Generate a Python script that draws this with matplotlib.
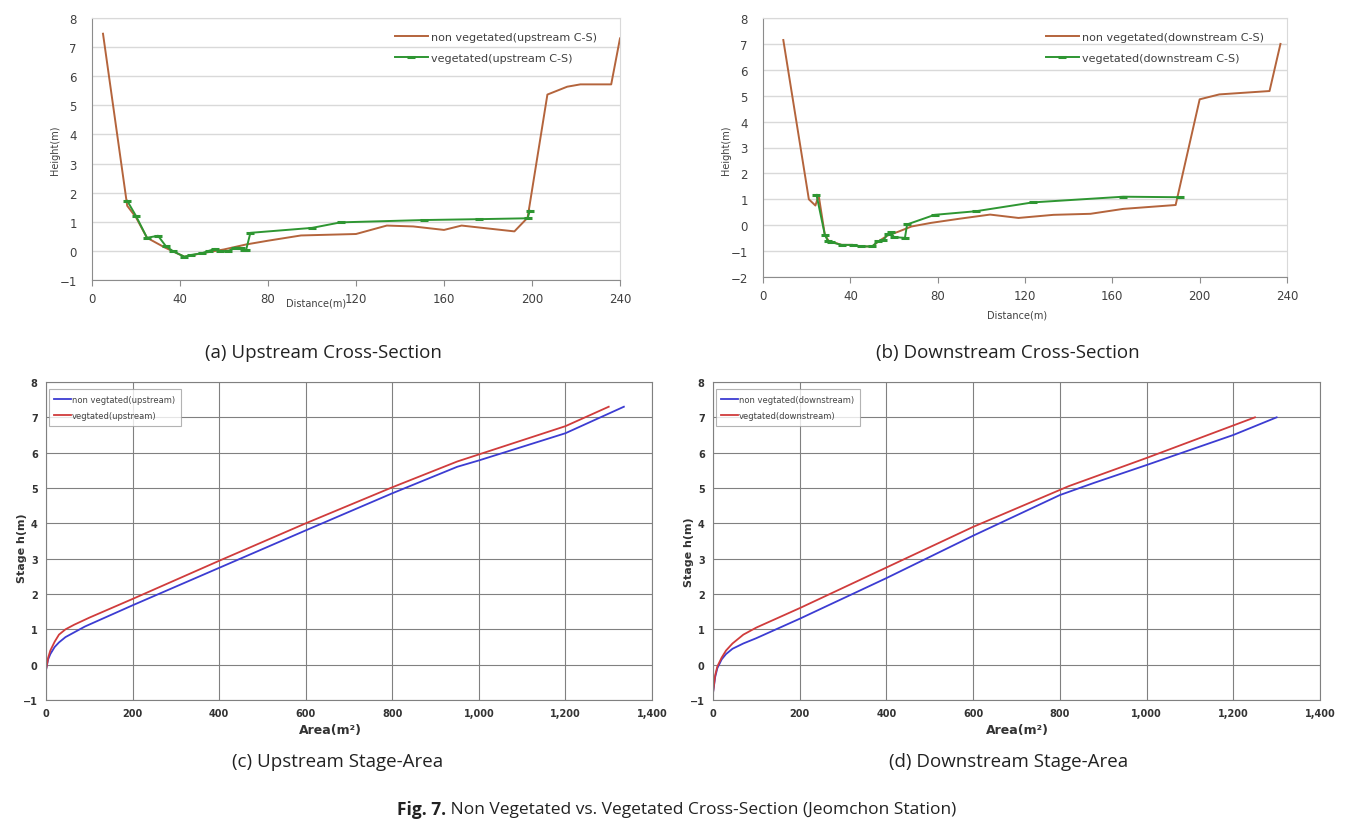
import matplotlib
matplotlib.use("Agg")
import matplotlib.pyplot as plt
from matplotlib.ticker import FuncFormatter

# ---------------- data ----------------
# (a) upstream cross-section
up_nonveg_x = [5, 16, 20, 25, 33, 42, 50, 60, 70, 80, 95, 120, 134, 146, 160, 168, 192, 198, 207, 216, 222, 236, 240]
up_nonveg_y = [7.46, 1.55, 1.15, 0.45, 0.12, -0.2, -0.08, 0.05, 0.22, 0.35, 0.53, 0.58, 0.87, 0.84, 0.72, 0.87, 0.67, 1.14, 5.37, 5.64, 5.72, 5.72, 7.3]
up_veg_x = [16, 20, 25, 30, 33.5, 37, 42, 45, 50, 53, 56, 58, 62, 65, 67.5, 69, 70, 72, 100, 113, 151, 176, 198, 199]
up_veg_y = [1.72, 1.2, 0.45, 0.52, 0.17, -0.02, -0.2, -0.14, -0.08, 0.0, 0.07, -0.02, 0.0, 0.11, 0.11, 0.02, 0.02, 0.62, 0.79, 0.98, 1.06, 1.09, 1.12, 1.38]

# (b) downstream cross-section
dn_nonveg_x = [9.3, 21, 24, 25.5, 28.3, 30, 36, 41, 45, 50, 53, 57, 62, 68, 77, 90, 104, 117, 133, 150, 165, 189, 200, 209, 232, 237]
dn_nonveg_y = [7.15, 1.0, 0.76, 1.15, -0.36, -0.6, -0.76, -0.76, -0.82, -0.82, -0.62, -0.4, -0.25, -0.05, 0.09, 0.25, 0.41, 0.28, 0.4, 0.44, 0.63, 0.78, 4.86, 5.05, 5.18, 7.0]
dn_veg_x = [24.5, 28.3, 29.8, 31, 36, 41, 45, 50, 52.7, 55, 57.3, 58.5, 60, 65, 66, 78.6, 97.6, 123.5, 165, 191]
dn_veg_y = [1.17, -0.36, -0.62, -0.65, -0.76, -0.76, -0.82, -0.82, -0.62, -0.59, -0.33, -0.27, -0.46, -0.49, 0.03, 0.4, 0.54, 0.88, 1.1, 1.08]

# (c) upstream stage-area
upA_nonveg_area = [0, 5, 10, 20, 30, 45, 60, 90, 200, 400, 600, 800, 950, 1000, 1200, 1335]
upA_nonveg_stage = [-0.15, 0.15, 0.3, 0.5, 0.63, 0.78, 0.88, 1.08, 1.68, 2.74, 3.8, 4.85, 5.6, 5.78, 6.55, 7.3]
upA_veg_area = [0, 5, 10, 20, 30, 45, 65, 100, 200, 400, 600, 800, 950, 1000, 1200, 1300]
upA_veg_stage = [-0.15, 0.2, 0.4, 0.65, 0.85, 1.0, 1.13, 1.33, 1.86, 2.94, 4.0, 5.02, 5.75, 5.95, 6.75, 7.3]

# (d) downstream stage-area
dnA_nonveg_area = [0, 5, 10, 20, 30, 45, 70, 100, 200, 400, 600, 800, 880, 1000, 1200, 1300]
dnA_nonveg_stage = [-0.8, -0.35, -0.1, 0.15, 0.3, 0.45, 0.6, 0.75, 1.3, 2.45, 3.65, 4.8, 5.15, 5.65, 6.5, 7.0]
dnA_veg_area = [0, 5, 10, 20, 30, 45, 70, 100, 200, 400, 600, 820, 1000, 1250]
dnA_veg_stage = [-0.8, -0.3, -0.05, 0.2, 0.4, 0.6, 0.85, 1.05, 1.6, 2.75, 3.9, 5.05, 5.85, 7.0]

# labels
cs_ticks_x = [0, 40, 80, 120, 160, 200, 240]
sa_ticks_x = [0, 200, 400, 600, 800, 1000, 1200, 1400]

BROWN = "#B4643C"
GREEN = "#2E9632"
BLUE = "#3C3CD2"
RED = "#D03C3C"

W, H = 1357, 828
fig = plt.figure(figsize=(W / 100, H / 100), dpi=100)
fig.patch.set_facecolor("white")


def rect(l, t, r, b):
    return [l / W, 1 - b / H, (r - l) / W, (b - t) / H]


def cross_section(ax, xn, yn, xv, yv, ylim, name):
    ax.plot(xn, yn, color=BROWN, lw=1.4, label=f"non vegetated({name} C-S)")
    ax.plot(xv, yv, color=GREEN, lw=1.4, marker="_", ms=6, mew=2.2,
            label=f"vegetated({name} C-S)")
    ax.set_xlim(0, 240)
    ax.set_ylim(*ylim)
    ax.set_xticks(cs_ticks_x)
    ax.set_yticks(range(ylim[0], ylim[1] + 1))
    ax.yaxis.grid(True, color="#D9D9D9", lw=1)
    ax.set_axisbelow(True)
    for s in ["top", "right"]:
        ax.spines[s].set_color("#D9D9D9")
    for s in ["left", "bottom"]:
        ax.spines[s].set_color("#8C8C8C")
    ax.tick_params(axis="x", colors="#8C8C8C", labelcolor="#404040", labelsize=8.5, length=4,
                   direction="out", pad=5)
    ax.tick_params(axis="y", length=0, labelcolor="#404040", labelsize=8.5, pad=11)
    leg = ax.legend(loc="upper right", frameon=False, fontsize=8, handlelength=3.0,
                    handletextpad=0.25, bbox_to_anchor=(0.975, 0.985), labelspacing=1.0)
    for t in leg.get_texts():
        t.set_color("#404040")


def stage_area(ax, an, sn, av, sv, name):
    ax.plot(an, sn, color=BLUE, lw=1.3, label=f"non vegtated({name})")
    ax.plot(av, sv, color=RED, lw=1.3, label=f"vegtated({name})")
    ax.set_xlim(0, 1400)
    ax.set_ylim(-1, 8)
    ax.set_xticks(sa_ticks_x)
    ax.set_yticks(range(-1, 9))
    ax.xaxis.set_major_formatter(FuncFormatter(lambda v, p: f"{int(v):,}"))
    ax.grid(True, color="#808080", lw=0.8)
    ax.set_axisbelow(True)
    for s in ax.spines.values():
        s.set_color("#808080")
        s.set_linewidth(0.8)
    ax.tick_params(length=0, labelsize=7, labelcolor="#333333", pad=6)
    for lab in ax.get_xticklabels() + ax.get_yticklabels():
        lab.set_fontweight("bold")
    leg = ax.legend(loc="upper left", fontsize=6, frameon=True, fancybox=False,
                    edgecolor="#A0A0A0", handlelength=2.0, handletextpad=0.1,
                    borderpad=0.7, labelspacing=0.8, bbox_to_anchor=(0.0, 0.985),
                    borderaxespad=0.3)
    leg.get_frame().set_linewidth(0.8)
    for t in leg.get_texts():
        t.set_color("#444444")


ax_a = fig.add_axes(rect(92, 19, 620, 281))
cross_section(ax_a, up_nonveg_x, up_nonveg_y, up_veg_x, up_veg_y, (-1, 8), "upstream")
ax_b = fig.add_axes(rect(763, 19, 1287, 278))
cross_section(ax_b, dn_nonveg_x, dn_nonveg_y, dn_veg_x, dn_veg_y, (-2, 8), "downstream")

ax_c = fig.add_axes(rect(46, 383, 652, 701))
stage_area(ax_c, upA_nonveg_area, upA_nonveg_stage, upA_veg_area, upA_veg_stage, "upstream")
ax_d = fig.add_axes(rect(713, 383, 1320, 701))
stage_area(ax_d, dnA_nonveg_area, dnA_nonveg_stage, dnA_veg_area, dnA_veg_stage, "downstream")

# axis titles
fig.text(55 / W, 1 - 150 / H, "Height(m)", rotation=90, ha="center", va="center", fontsize=7, color="#404040")
fig.text(316 / W, 1 - 304 / H, "Distance(m)", ha="center", va="center", fontsize=7, color="#404040")
fig.text(726 / W, 1 - 150 / H, "Height(m)", rotation=90, ha="center", va="center", fontsize=7, color="#404040")
fig.text(1017 / W, 1 - 315 / H, "Distance(m)", ha="center", va="center", fontsize=7, color="#404040")

fig.text(22 / W, 1 - 548 / H, "Stage h(m)", rotation=90, ha="center", va="center", fontsize=8, fontweight="bold", color="#333333")
fig.text(330 / W, 1 - 731 / H, "Area(m²)", ha="center", va="center", fontsize=9, fontweight="bold", color="#333333")
fig.text(689 / W, 1 - 552 / H, "Stage h(m)", rotation=90, ha="center", va="center", fontsize=8, fontweight="bold", color="#333333")
fig.text(1017 / W, 1 - 731 / H, "Area(m²)", ha="center", va="center", fontsize=9, fontweight="bold", color="#333333")

# captions
cap = dict(ha="center", va="center", fontsize=13.5, color="#222222", family="Open Sans")
fig.text(323 / W, 1 - 353 / H, "(a) Upstream Cross-Section", **cap)
fig.text(1008 / W, 1 - 353 / H, "(b) Downstream Cross-Section", **cap)
fig.text(338 / W, 1 - 762 / H, "(c) Upstream Stage-Area", **cap)
fig.text(1009 / W, 1 - 762 / H, "(d) Downstream Stage-Area", **cap)

t1 = fig.text(0, 0, "Fig. 7.", fontsize=12.5, fontweight="bold", family="Open Sans", color="#222222", va="center")
t2 = fig.text(0, 0, " Non Vegetated vs. Vegetated Cross-Section (Jeomchon Station)", fontsize=12.5,
              family="Open Sans", color="#222222", va="center")
fig.canvas.draw()
r = fig.canvas.get_renderer()
w1 = t1.get_window_extent(r).width
w2 = t2.get_window_extent(r).width
x0 = 677 - (w1 + w2) / 2
t1.set_position((x0 / W, 1 - 810 / H))
t2.set_position(((x0 + w1) / W, 1 - 810 / H))

fig.savefig("out.png", dpi=100, facecolor="white")
